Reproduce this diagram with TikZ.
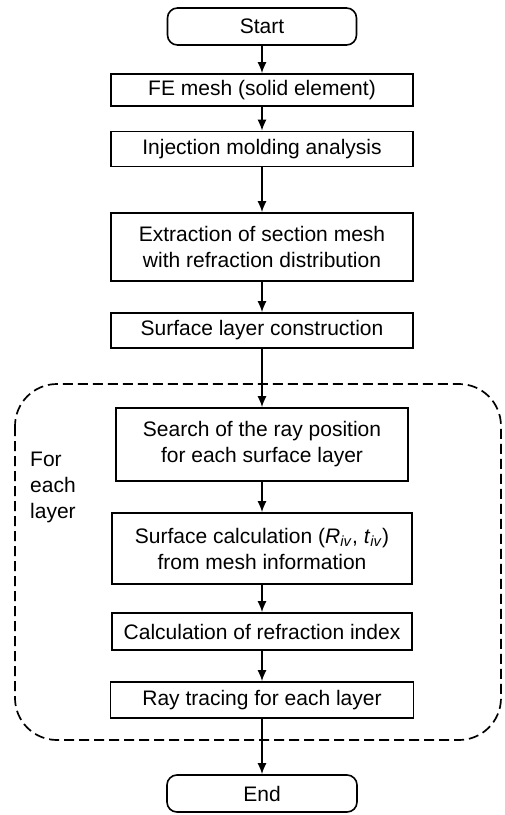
\documentclass[tikz,border=0pt]{standalone}
\usepackage{fontspec}
\setmainfont{Liberation Sans}
\usetikzlibrary{arrows.meta}
\begin{document}
\begin{tikzpicture}[x=1pt,y=-1pt,
  every node/.style={font=\fontsize{21}{26}\selectfont},
  procbox/.style={draw, line width=1.6pt, inner sep=0pt, align=center},
  termbox/.style={draw, line width=1.6pt, inner sep=0pt, rounded corners=10pt},
  flow/.style={line width=1.6pt, -{Latex[length=11pt,width=9pt]}},
  loopbox/.style={draw, line width=1.7pt, dash pattern=on 10pt off 5pt, rounded corners=42pt}
]
\useasboundingbox (0,0) rectangle (505,815);
\fill[white] (0,0) rectangle (505,815);

\node[termbox, minimum width=189pt, minimum height=37pt] (start) at (262,26.5) {Start};
\node[procbox, minimum width=302pt, minimum height=32pt] (fe) at (262,90) {FE mesh (solid element)};
\node[procbox, minimum width=302pt, minimum height=35pt] (inj) at (262,149) {Injection molding analysis};
\node[procbox, minimum width=302pt, minimum height=68pt] (ext) at (262,247) {Extraction of section mesh\\with refraction distribution};
\node[procbox, minimum width=302pt, minimum height=35pt] (surf) at (262,330.5) {Surface layer construction};

\draw[loopbox] (15,384) rectangle (501,740);
\node[anchor=north west, align=left, inner sep=0pt] (lbl) at (30,452) {For\\each\\layer};

\node[procbox, minimum width=292pt, minimum height=73pt] (search) at (262,444.5) {Search of the ray position\\for each surface layer};
\node[procbox, minimum width=300pt, minimum height=71pt] (calc) at (262,548.5) {Surface calculation (\textit{R}\textsubscript{\textit{iv}}, \textit{t}\textsubscript{\textit{iv}})\\from mesh information};
\node[procbox, minimum width=300pt, minimum height=37pt] (refr) at (262,631.5) {Calculation of refraction index};
\node[procbox, minimum width=303pt, minimum height=36pt] (ray) at (262,700) {Ray tracing for each layer};
\node[termbox, minimum width=190pt, minimum height=37pt] (end) at (262,793.5) {End};

\draw[flow] (start) -- (fe);
\draw[flow] (fe) -- (inj);
\draw[flow] (inj) -- (ext);
\draw[flow] (ext) -- (surf);
\draw[flow] (surf) -- (search);
\draw[flow] (search) -- (calc);
\draw[flow] (calc) -- (refr);
\draw[flow] (refr) -- (ray);
\draw[flow] (ray) -- (end);
\end{tikzpicture}
\end{document}
